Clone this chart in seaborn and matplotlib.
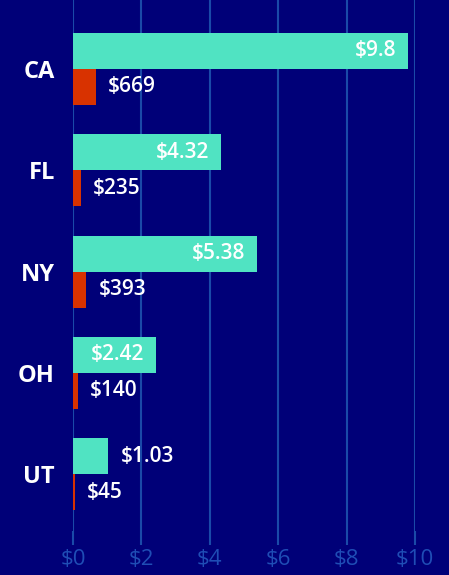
import matplotlib
matplotlib.use("Agg")
import matplotlib.pyplot as plt
import seaborn as sns
import pandas as pd

states = ["CA", "FL", "NY", "OH", "UT"]
teal_values = [9.8, 4.32, 5.38, 2.42, 1.03]
teal_labels = ["$9.8", "$4.32", "$5.38", "$2.42", "$1.03"]
red_values = [669, 235, 393, 140, 45]
red_labels = ["$669", "$235", "$393", "$140", "$45"]
x_ticks = [0, 2, 4, 6, 8, 10]
x_tick_labels = ["$0", "$2", "$4", "$6", "$8", "$10"]

BG = "#000078"
TEAL = "#50e3c2"
RED = "#d83200"
GRID = "#1a4aa8"
TICKC = "#1f4db5"

sns.set_theme(style="dark")
plt.rcParams["font.family"] = ["Open Sans", "DejaVu Sans"]

df = pd.DataFrame({
    "state": states * 2,
    "series": ["a"] * len(states) + ["b"] * len(states),
    "value": teal_values + [v / 1000 for v in red_values],
})

fig = plt.figure(figsize=(4.49, 5.75), dpi=100, facecolor=BG)
ax = fig.add_axes([73 / 449, 44 / 575, 342 / 449, 531 / 575])
ax.set_facecolor(BG)

sns.barplot(data=df, y="state", x="value", hue="series", order=states,
            hue_order=["a", "b"], palette=[TEAL, RED], width=0.71,
            orient="h", ax=ax, legend=False, saturation=1, linewidth=0, zorder=3)

ax.set_xlim(0, 10)
ax.set_ylim(4.56, -0.68)
ax.set_xticks(x_ticks)
ax.set_xticklabels(x_tick_labels)
ax.grid(axis="x", color=GRID, linewidth=1.5, zorder=0)
ax.grid(axis="y", visible=False)
for s in ax.spines.values():
    s.set_visible(False)
ax.tick_params(axis="x", colors=GRID, length=10, width=1.5, pad=3,
               labelsize=16, labelcolor=TICKC, bottom=True, direction="out")
ax.tick_params(axis="y", length=0, pad=13, labelsize=17, labelcolor="white")
for lbl in ax.get_yticklabels():
    lbl.set_fontweight("bold")
ax.set_xlabel("")
ax.set_ylabel("")

h = 0.355
px = 10 / 342  # data units per pixel
fs = 15
for i in range(len(states)):
    tv = teal_values[i]
    yc = i - h / 2
    if tv > 2:
        ax.text(tv - 12 * px, yc, teal_labels[i], ha="right", va="center",
                color="white", fontsize=fs, fontweight="semibold", zorder=5)
    else:
        ax.text(tv + 13 * px, yc, teal_labels[i], ha="left", va="center",
                color="white", fontsize=fs, fontweight="semibold", zorder=5)
    rv = red_values[i] / 1000
    ax.text(rv + 12 * px, i + h / 2, red_labels[i], ha="left", va="center",
            color="white", fontsize=fs, fontweight="semibold", zorder=5)

fig.savefig("out.png", dpi=100, facecolor=BG)
